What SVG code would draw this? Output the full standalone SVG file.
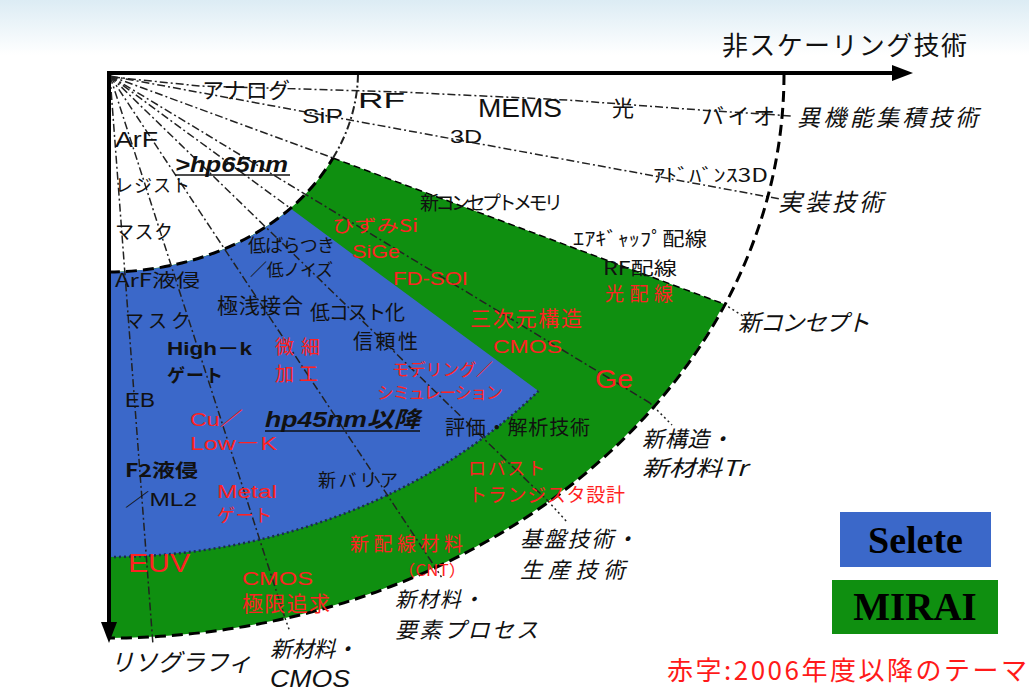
<svg xmlns="http://www.w3.org/2000/svg" width="1029" height="691" viewBox="0 0 1029 691">
<defs>
<linearGradient id="bg" x1="0" y1="0" x2="0" y2="1">
<stop offset="0" stop-color="#dcecf4"/>
<stop offset="1" stop-color="#ffffff"/>
</linearGradient>
<style>
.t{font-family:"Noto Sans CJK JP","Liberation Sans",sans-serif;fill:#111}
.l{font-family:"Liberation Sans","Noto Sans CJK JP",sans-serif;fill:#111}
.r{fill:#ff2222}
.i{font-style:italic}
.b{font-weight:bold}
.ray{fill:none;stroke:#222;stroke-width:1.5;stroke-dasharray:8 3 2 3}
.dot{fill:none;stroke:#222;stroke-width:1.5;stroke-dasharray:2 3}
.arcd{fill:none;stroke:#000;stroke-width:3;stroke-dasharray:11 6}
.mid{fill:none;stroke:#1a2a55;stroke-width:2.5;stroke-dasharray:2 3}
.ax{stroke:#000;stroke-width:4;fill:none}
.lg{font-family:"Liberation Serif",serif;font-weight:bold;fill:#000}
</style>
</defs>
<rect x="0" y="0" width="1029" height="691" fill="#fff"/>
<rect x="0" y="0" width="1029" height="55" fill="url(#bg)"/>

<g id="region-green">
<path d="M333,158 L724,304 A675 564 0 0 1 109,638 L109,272 A249 198 0 0 0 333,158 Z" fill="#0f8f10"/>
</g>
<g id="region-blue">
<path d="M290.6,208.6 L538.5,391 A571 483 0 0 1 109,557 L109,272 A249 198 0 0 0 290.6,208.6 Z" fill="#3b68c9"/>
</g>

<g id="connectors">
<polyline class="ray" points="112,77 200,86 400,92 567,100 700,110 792,116"/>
<line class="ray" x1="110" y1="76" x2="780" y2="199"/>
<line class="ray" x1="110" y1="76" x2="333" y2="158"/>
<line class="ray" x1="333" y1="158" x2="724" y2="304" style="stroke:#000;stroke-dasharray:7 4"/>
<line class="dot" x1="724" y1="304" x2="746" y2="318"/>
<line class="ray" x1="110" y1="76" x2="290" y2="208"/>
<line class="ray" x1="110" y1="76" x2="650" y2="403"/>
<line class="dot" x1="650" y1="403" x2="672" y2="425"/>
<line class="ray" x1="110" y1="76" x2="548" y2="501"/>
<line class="dot" x1="548" y1="501" x2="567" y2="522"/>
<line class="ray" x1="110" y1="76" x2="435" y2="567"/>
<line class="dot" x1="435" y1="567" x2="442" y2="578"/>
<line class="ray" x1="110" y1="76" x2="285" y2="618"/>
<line class="dot" x1="285" y1="618" x2="290" y2="632"/>
<line class="ray" x1="110" y1="76" x2="153" y2="645"/>
<path class="arcd" d="M109,272 A249 198 0 0 0 333,158"/>
<path class="ray" d="M333,158 A249 198 0 0 0 358,74" style="stroke-width:2"/>
<path class="arcd" d="M784,74 A675 564 0 0 1 109,638"/>
<path class="mid" d="M109,557 A571 483 0 0 0 538.5,391"/>
</g>

<g id="axes">
<line class="ax" x1="107" y1="73" x2="896" y2="73"/>
<polygon points="892,65 913,73 892,81" fill="#000"/>
<line class="ax" x1="109" y1="71" x2="109" y2="624"/>
<polygon points="101,622 109,643 117,622" fill="#000"/>
</g>

<g id="labels-top">
<text class="t" x="722" y="55" font-size="26" textLength="245">非スケーリング技術</text>
<text class="t" x="202" y="98" font-size="22" textLength="88">アナログ</text>
<text class="l" x="302" y="123" font-size="21" textLength="41" lengthAdjust="spacingAndGlyphs">SiP</text>
<text class="l" x="358" y="108" font-size="22" textLength="47" lengthAdjust="spacingAndGlyphs">RF</text>
<text class="l" x="478" y="117" font-size="25" textLength="84" lengthAdjust="spacingAndGlyphs">MEMS</text>
<text class="t" x="612" y="116" font-size="22">光</text>
<text class="t" x="702" y="124" font-size="22" textLength="73">バイオ</text>
<text class="t i" x="797" y="126" font-size="23" textLength="181">異機能集積技術</text>
<text class="l" x="450" y="143" font-size="18" textLength="32" lengthAdjust="spacingAndGlyphs">3D</text>
<text class="t" x="653" y="182" font-size="18" textLength="115" lengthAdjust="spacingAndGlyphs">ｱﾄﾞﾊﾞﾝｽ3D</text>
<text class="t i" x="778" y="211" font-size="24" textLength="105">実装技術</text>
<text class="t" x="420" y="210" font-size="19" textLength="143">新コンセプトメモリ</text>
<text class="t" x="573" y="246" font-size="19" textLength="134" lengthAdjust="spacingAndGlyphs">ｴｱｷﾞｬｯﾌﾟ配線</text>
<text class="t" x="603" y="275" font-size="18" textLength="74" lengthAdjust="spacingAndGlyphs">RF配線</text>
<text class="t r" x="605" y="301" font-size="19" textLength="68">光配線</text>
<text class="t i" x="738" y="331" font-size="23" textLength="132">新コンセプト</text>
</g>

<g id="labels-left">
<text class="l" x="115" y="147" font-size="22" textLength="43" lengthAdjust="spacingAndGlyphs">ArF</text>
<text class="l b i" x="175" y="172" font-size="22" textLength="113" lengthAdjust="spacingAndGlyphs">&gt;hp65nm</text>
<line x1="175" y1="175" x2="290" y2="175" stroke="#111" stroke-width="1.5"/>
<text class="t" x="115" y="192" font-size="18" textLength="75">レジスト</text>
<text class="t" x="115" y="239" font-size="19" textLength="58">マスク</text>
</g>

<g id="labels-blue">
<text class="t" x="248" y="252" font-size="18" textLength="87">低ばらつき</text>
<text class="t" x="250" y="276" font-size="17" textLength="83">／低ノイズ</text>
<text class="t" x="115" y="287" font-size="18" textLength="85" lengthAdjust="spacingAndGlyphs">ArF液侵</text>
<text class="t" x="217" y="313" font-size="21" textLength="86">極浅接合</text>
<text class="t" x="310" y="320" font-size="20" textLength="95">低コスト化</text>
<text class="t" x="125" y="328" font-size="19" textLength="65">マスク</text>
<text class="l b" x="167" y="355" font-size="18" textLength="85" lengthAdjust="spacingAndGlyphs">High－k</text>
<text class="t b" x="167" y="382" font-size="18" textLength="56">ゲート</text>
<text class="t r" x="275" y="354" font-size="19" textLength="45">微細</text>
<text class="t r" x="275" y="381" font-size="19" textLength="43">加工</text>
<text class="t" x="353" y="349" font-size="20" textLength="65">信頼性</text>
<text class="t r" x="392" y="376" font-size="17" textLength="101">モデリング／</text>
<text class="t r" x="377" y="399" font-size="17" textLength="126">シミュレーション</text>
<text class="l" x="125" y="407" font-size="20" textLength="30" lengthAdjust="spacingAndGlyphs">EB</text>
<text class="l r" x="190" y="426" font-size="19" textLength="53" lengthAdjust="spacingAndGlyphs">Cu／</text>
<text class="l b i" x="265" y="427" font-size="22" textLength="155" lengthAdjust="spacingAndGlyphs">hp45nm以降</text>
<line x1="265" y1="431" x2="420" y2="431" stroke="#111" stroke-width="1.5"/>
<text class="l r" x="190" y="450" font-size="19" textLength="87" lengthAdjust="spacingAndGlyphs">Low－K</text>
<text class="t b" x="125" y="477" font-size="18" textLength="73" lengthAdjust="spacingAndGlyphs">F2液侵</text>
<text class="l" x="125" y="506" font-size="18" textLength="72" lengthAdjust="spacingAndGlyphs">／ML2</text>
<text class="t" x="318" y="487" font-size="18" textLength="80">新バリア</text>
<text class="l r" x="217" y="498" font-size="18" textLength="60" lengthAdjust="spacingAndGlyphs">Metal</text>
<text class="t r" x="217" y="522" font-size="18" textLength="55">ゲート</text>
</g>

<g id="labels-green">
<text class="t r" x="332" y="232" font-size="17" textLength="86" lengthAdjust="spacingAndGlyphs">ひずみSi</text>
<text class="l r" x="352" y="258" font-size="18" textLength="48" lengthAdjust="spacingAndGlyphs">SiGe</text>
<text class="l r" x="393" y="285" font-size="19" textLength="75" lengthAdjust="spacingAndGlyphs">FD-SOI</text>
<text class="t r" x="470" y="326" font-size="21" textLength="112">三次元構造</text>
<text class="l r" x="493" y="353" font-size="19" textLength="69" lengthAdjust="spacingAndGlyphs">CMOS</text>
<text class="l r" x="595" y="388" font-size="26" textLength="38" lengthAdjust="spacingAndGlyphs">Ge</text>
<text class="t" x="445" y="435" font-size="20" textLength="145">評価・解析技術</text>
<text class="t r" x="468" y="475" font-size="18" textLength="77">ロバスト</text>
<text class="t r" x="468" y="502" font-size="19" textLength="157">トランジスタ設計</text>
<text class="t r" x="350" y="551" font-size="19" textLength="113">新配線材料</text>
<text class="t r" x="398" y="576" font-size="16" textLength="68" lengthAdjust="spacingAndGlyphs">（CNT）</text>
<text class="l r" x="128" y="572" font-size="26" textLength="62" lengthAdjust="spacingAndGlyphs">EUV</text>
<text class="l r" x="242" y="585" font-size="19" textLength="71" lengthAdjust="spacingAndGlyphs">CMOS</text>
<text class="t r" x="242" y="611" font-size="21" textLength="88">極限追求</text>
</g>

<g id="labels-outer">
<text class="t i" x="642" y="447" font-size="22" textLength="90">新構造・</text>
<text class="t i" x="642" y="476" font-size="22" textLength="105" lengthAdjust="spacingAndGlyphs">新材料Tr</text>
<text class="t i" x="520" y="547" font-size="22" textLength="117">基盤技術・</text>
<text class="t i" x="520" y="578" font-size="22" textLength="105">生産技術</text>
<text class="t i" x="395" y="607" font-size="21" textLength="88">新材料・</text>
<text class="t i" x="395" y="638" font-size="22" textLength="143">要素プロセス</text>
<text class="t i" x="110" y="671" font-size="24" textLength="142">リソグラフィ</text>
<text class="t i" x="270" y="657" font-size="22" textLength="87">新材料・</text>
<text class="l i" x="270" y="687" font-size="24" textLength="80" lengthAdjust="spacingAndGlyphs">CMOS</text>
</g>

<g id="legend-selete">
<rect x="840" y="512" width="151" height="55" fill="#3b68c9"/>
<text class="lg" x="915.5" y="553" font-size="38" text-anchor="middle">Selete</text>
</g>
<g id="legend-mirai">
<rect x="832" y="580" width="166" height="54" fill="#0f8f10"/>
<text class="lg" x="915" y="620" font-size="39" text-anchor="middle">MIRAI</text>
</g>
<g id="legend-note">
<text class="t" x="667" y="680" font-size="26" textLength="360" style="fill:#ff1a1a">赤字:2006年度以降のテーマ</text>
</g>
</svg>
